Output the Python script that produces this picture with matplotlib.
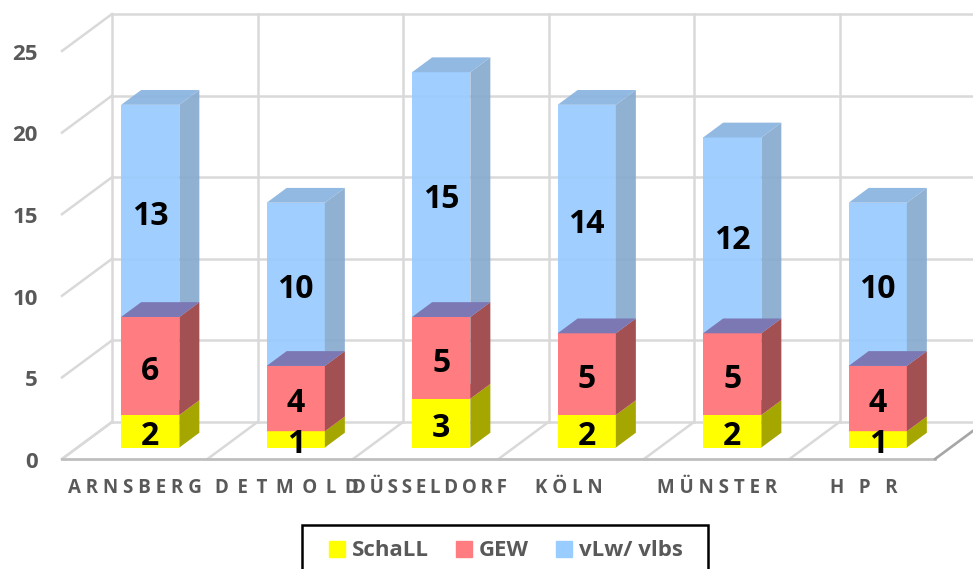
import matplotlib
matplotlib.use("Agg")
import matplotlib.pyplot as plt
from matplotlib.patches import Patch, Rectangle

TS = "\u2009"
categories = ["A R N S B E R G", "D  E  T  M  O  L  D".replace("  ", " " + TS),
              TS.join("DÜSSELDORF"), "K Ö L N", "M Ü N S T E R", "H   P   R"]
schall = [2, 1, 3, 2, 2, 1]
gew = [6, 4, 5, 5, 5, 4]
vlw = [13, 10, 15, 14, 12, 10]
y_ticks = [0, 5, 10, 15, 20, 25]

FONT = ["Open Sans", "DejaVu Sans"]
GREY = "#595959"
GRID = "#D9D9D9"

# pixel layout of the fake 3d box
W, H = 973, 569
X0, CAT_W = 62, 145.5
Y0, UNIT = 459, 16.32
DEPTH_X, DEPTH_Y = 50 / CAT_W, 37 / UNIT
BAR_HALF = 0.2
BAR_D0, BAR_D1 = 0.31, 0.71
# the category labels are not quite centred in the reference, px
LABEL_SHIFT = [0, 7, 4, -2, 0, 2]


def pt(x, v, d=0.0):
    # category units, value, depth 0..1 -> data coords of the flat axes
    return x + d * DEPTH_X, v + d * DEPTH_Y


def draw_bar(ax, i, bottom, top, front, side, roof, alpha=1.0, zorder=3):
    c = i + 0.5
    left, right = c - BAR_HALF, c + BAR_HALF
    side_pts = [pt(right, bottom, BAR_D0), pt(right, bottom, BAR_D1), pt(right, top, BAR_D1), pt(right, top, BAR_D0)]
    front_pts = [pt(left, bottom, BAR_D0), pt(right, bottom, BAR_D0), pt(right, top, BAR_D0), pt(left, top, BAR_D0)]
    roof_pts = [pt(left, top, BAR_D0), pt(right, top, BAR_D0), pt(right, top, BAR_D1), pt(left, top, BAR_D1)]
    for pts, col in ((front_pts, front), (side_pts, side)):
        ax.fill(*zip(*pts), color=col, alpha=alpha, lw=0, zorder=zorder)
    ax.fill(*zip(*roof_pts), color=roof, alpha=alpha, lw=0, zorder=zorder)


fig = plt.figure(figsize=(W / 100, H / 100), dpi=100)
ax = fig.add_axes([0, 0, 1, 1])
ax.set_xlim(-X0 / CAT_W, (W - X0) / CAT_W)
ax.set_ylim((Y0 - H) / UNIT, Y0 / UNIT)
ax.axis("off")

n = len(categories)

# walls and floor
for v in y_ticks:
    ax.plot(*zip(pt(0, v), pt(0, v, 1)), color=GRID, lw=1.8, zorder=1)
    ax.plot(*zip(pt(0, v, 1), pt(n + 1, v, 1)), color=GRID, lw=1.8, zorder=1)
    ax.text(-0.165, v - 0.2, str(v), ha="right", va="center", fontsize=16, fontweight="bold",
            family=FONT, color=GREY)
for i in range(n + 1):
    ax.plot(*zip(pt(i, 0), pt(i, 0, 1)), color=GRID, lw=1.8, zorder=1)
    if i < n:
        ax.plot(*zip(pt(i, 0, 1), pt(i, 25, 1)), color=GRID, lw=1.8, zorder=1)
ax.plot(*zip(pt(0, 0), pt(n, 0)), color="#BFBFBF", lw=2, zorder=2)
ax.plot(*zip(pt(n, 0), pt(n, 0, 1)), color="#A6A6A6", lw=1.8, zorder=2)

# bars, top segment first so the lower roofs lie over the blue
for i in range(n):
    s, g, b = schall[i], gew[i], vlw[i]
    draw_bar(ax, i, s + g, s + g + b, "#99CCFF", "#88ABCF", "#8AB4E0", alpha=0.93, zorder=3)
    draw_bar(ax, i, 0, s, "#FFFF00", "#A6A600", "#FF7C80", zorder=5)
    # red goes over the yellow roof
    draw_bar(ax, i, s, s + g, "#FF7C80", "#A35052", "#7B78B4", zorder=6)
    bar_x = pt(i + 0.5, 0, BAR_D0)[0]
    base = pt(0, 0, BAR_D0)[1]
    for low, val in ((0, s), (s, g), (s + g, b)):
        ax.text(bar_x, base + low + val / 2 - 0.33, str(val), ha="center", va="center",
                fontsize=23, fontweight="bold", family=FONT, color="black", zorder=7)
    ax.text(i + 0.5 + LABEL_SHIFT[i] / CAT_W, -1.75, categories[i], ha="center", va="center",
            fontsize=13.5, fontweight="bold", family=FONT, color=GREY)

handles = [Patch(color="#FFFF00", label="SchaLL"), Patch(color="#FF7C80", label="GEW"),
           Patch(color="#99CCFF", label="vLw/ vlbs")]
# frame drawn by hand, it runs off the bottom of the picture
frame = Rectangle((302 / W, -0.02), 406 / W, 1 - 525 / H + 0.02, transform=ax.transAxes,
                  facecolor="white", edgecolor="black", lw=1.8, zorder=9, clip_on=True)
ax.add_patch(frame)
leg = ax.legend(handles=handles, ncol=3, loc="center left", bbox_to_anchor=(329 / W, 1 - 551 / H),
                frameon=False, prop={"family": FONT, "weight": "bold", "size": 16}, labelcolor=GREY,
                handlelength=0.72, handleheight=0.72, handletextpad=0.32, columnspacing=1.2,
                borderpad=0, borderaxespad=0)
leg.set_zorder(10)

fig.savefig("out.png", dpi=100)
